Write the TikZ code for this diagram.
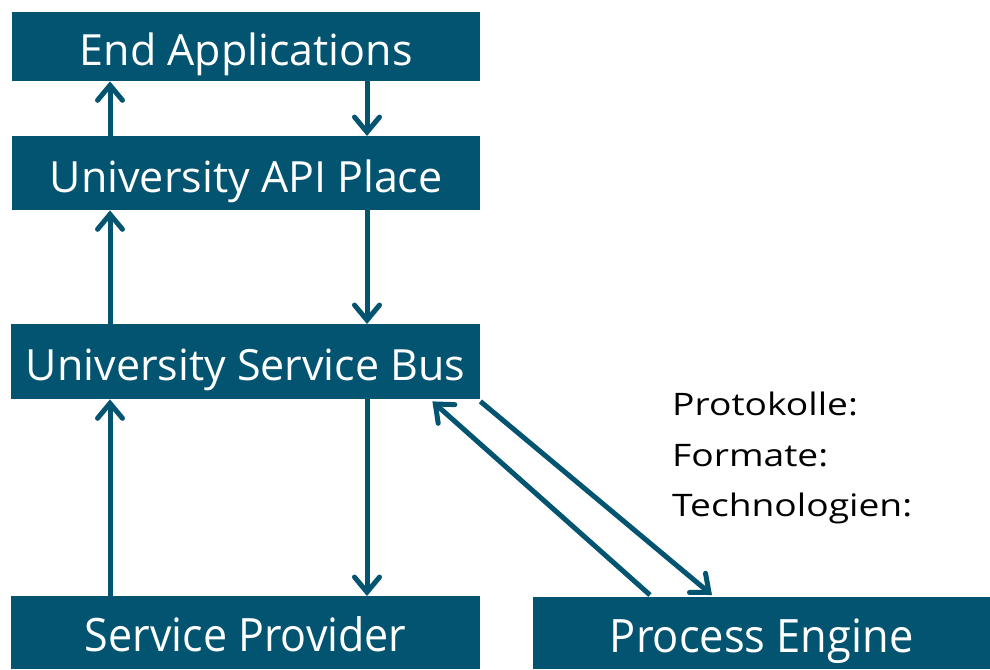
\documentclass[tikz,border=0pt]{standalone}
\usepackage{fontspec}
\setmainfont{Open Sans}
\usetikzlibrary{arrows.meta,calc}
\definecolor{uniblue}{RGB}{2,84,112}
\begin{document}
\begin{tikzpicture}[x=1pt,y=-1pt,
  box/.style={fill=uniblue,text=white,inner sep=0pt,anchor=north west,
    font=\fontsize{43}{50}\selectfont,text height=38pt,text depth=0pt},
  arr/.style={draw=uniblue,line width=5pt,
    -{Straight Barb[length=15pt,width=25pt,line width=5pt,line cap=round]}},
  side/.style={anchor=base west,font=\fontsize{31}{36}\selectfont,inner sep=0pt}]
\useasboundingbox (0,0) rectangle (990,669);
\node[box,minimum width=468pt,minimum height=69pt] (end) at (12,12) {End Applications};
\node[box,minimum width=468pt,minimum height=74pt] (api) at (12,136) {University API Place};
\node[box,minimum width=469pt,minimum height=75pt] (bus) at (11,324) {University Service Bus};
\node[box,minimum width=469pt,minimum height=73pt] (sp) at (11,596) {\scalebox{1.0}[1.07]{Service Provider}};
\node[box,minimum width=457pt,minimum height=72pt] (pe) at (533,597) {\scalebox{1.01}[1.07]{Process Engine}};
\coordinate (upx) at (110,0);
\coordinate (dnx) at (367,0);
\draw[arr] (api.north -| upx) -- (end.south -| upx);
\draw[arr] (end.south -| dnx) -- (api.north -| dnx);
\draw[arr] (bus.north -| upx) -- (api.south -| upx);
\draw[arr] (api.south -| dnx) -- (bus.north -| dnx);
\draw[arr] (sp.north -| upx) -- (bus.south -| upx);
\draw[arr] (bus.south -| dnx) -- (sp.north -| dnx);
\draw[arr] ($(pe.north west)+(117,-2)$) -- ($(bus.south east)+(-48,2)$);
\draw[arr] ($(bus.south east)+(0,2)$) -- ($(pe.north west)+(179,-2)$);
\node[side] (t1) at (672,415) {\scalebox{1.2}[1]{Protokolle:}};
\node[side] (t2) at (672,466) {\scalebox{1.2}[1]{Formate:}};
\node[side] (t3) at (672,516) {\scalebox{1.2}[1]{Technologien:}};
\end{tikzpicture}
\end{document}
